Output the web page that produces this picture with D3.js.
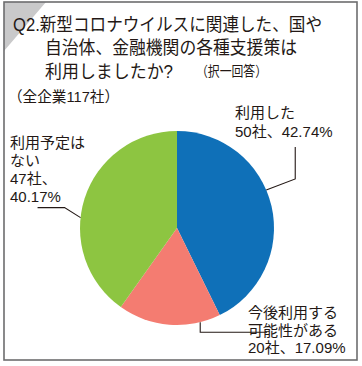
<!DOCTYPE html>
<html>
<head>
<meta charset="utf-8">
<script src="https://cdn.jsdelivr.net/npm/d3@7"></script>
<style>
  body { margin: 0; background: #fff; }
  text { font-family: "Liberation Sans", "Noto Sans CJK JP", sans-serif; fill: #231815; }
</style>
</head>
<body>
<svg id="chart" width="362" height="366"></svg>
<script>
var categories = ["利用した", "今後利用する可能性がある", "利用予定はない"];
var counts = [50, 20, 47];
var percents = ["42.74%", "17.09%", "40.17%"];
var colors = ["#0f70b8", "#f47c71", "#8dc541"];
var title_lines = ["Q2.新型コロナウイルスに関連した、国や", "自治体、金融機関の各種支援策は", "利用しましたか?"];
var subtitle = "（全企業117社）";

var svg = d3.select("#chart");

// frame + grey corner
svg.append("path")
    .attr("d", "M4,2 L46,2 L4,51 Z")
    .attr("fill", "#c9c9ca");
svg.append("rect")
    .attr("x", 4).attr("y", 2)
    .attr("width", 353).attr("height", 358)
    .attr("fill", "none")
    .attr("stroke", "#6d6d6e")
    .attr("stroke-width", 1.6);

// title
svg.append("text").attr("x", 13).attr("y", 31)
    .attr("font-size", 18).attr("textLength", 309).attr("lengthAdjust", "spacingAndGlyphs")
    .text(title_lines[0]);
svg.append("text").attr("x", 45).attr("y", 54)
    .attr("font-size", 18).attr("textLength", 252).attr("lengthAdjust", "spacingAndGlyphs")
    .text(title_lines[1]);
svg.append("text").attr("x", 45).attr("y", 78)
    .attr("font-size", 18).attr("textLength", 128).attr("lengthAdjust", "spacingAndGlyphs")
    .text(title_lines[2]);
svg.append("text").attr("x", 196).attr("y", 76)
    .attr("font-size", 14).attr("textLength", 71).attr("lengthAdjust", "spacingAndGlyphs")
    .text("（択一回答）");
svg.append("text").attr("x", 8).attr("y", 102)
    .attr("font-size", 15).attr("textLength", 111).attr("lengthAdjust", "spacingAndGlyphs")
    .text(subtitle);

// pie
var cx = 177, cy = 228, r = 97;
var pie = d3.pie().sort(null).value(function(d) { return d; });
var arcs = pie(counts);
var arc = d3.arc().innerRadius(0).outerRadius(r);

var g = svg.append("g").attr("transform", "translate(" + cx + "," + cy + ")");
g.selectAll("path.slice").data(arcs).enter().append("path")
    .attr("class", "slice")
    .attr("d", arc)
    .attr("fill", function(d, i) { return colors[i]; });

// leader lines: start at a fraction of each slice on the rim, then elbow offsets
var leader_pos = [0.435, 0.2, 0.42];
var leader_elbows = [
    [[29, -11], [29, -43]],
    [[0, 10], [67, 10]],
    [[-16, -10], [-43, -10]]
];
arcs.forEach(function(d, i) {
    var a = d.startAngle + (d.endAngle - d.startAngle) * leader_pos[i];
    var x0 = Math.sin(a) * r, y0 = -Math.cos(a) * r;
    var pts = [[x0, y0]];
    leader_elbows[i].forEach(function(e) {
        pts.push([x0 + e[0], y0 + e[1]]);
    });
    g.append("path")
        .attr("d", d3.line()(pts))
        .attr("fill", "none")
        .attr("stroke", "#231815")
        .attr("stroke-width", 1.1);
});

// labels
var label_lines = [
    [categories[0], counts[0] + "社、" + percents[0]],
    ["今後利用する", "可能性がある", counts[1] + "社、" + percents[1]],
    ["利用予定は", "ない", counts[2] + "社、", percents[2]]
];
var label_pos = [[235, 118, 19], [248, 318, 17.5], [10, 148, 18]];
label_lines.forEach(function(lines, i) {
    lines.forEach(function(s, k) {
        svg.append("text")
            .attr("font-size", 15)
            .attr("x", label_pos[i][0])
            .attr("y", label_pos[i][1] + k * label_pos[i][2])
            .text(s);
    });
});
</script>
</body>
</html>
